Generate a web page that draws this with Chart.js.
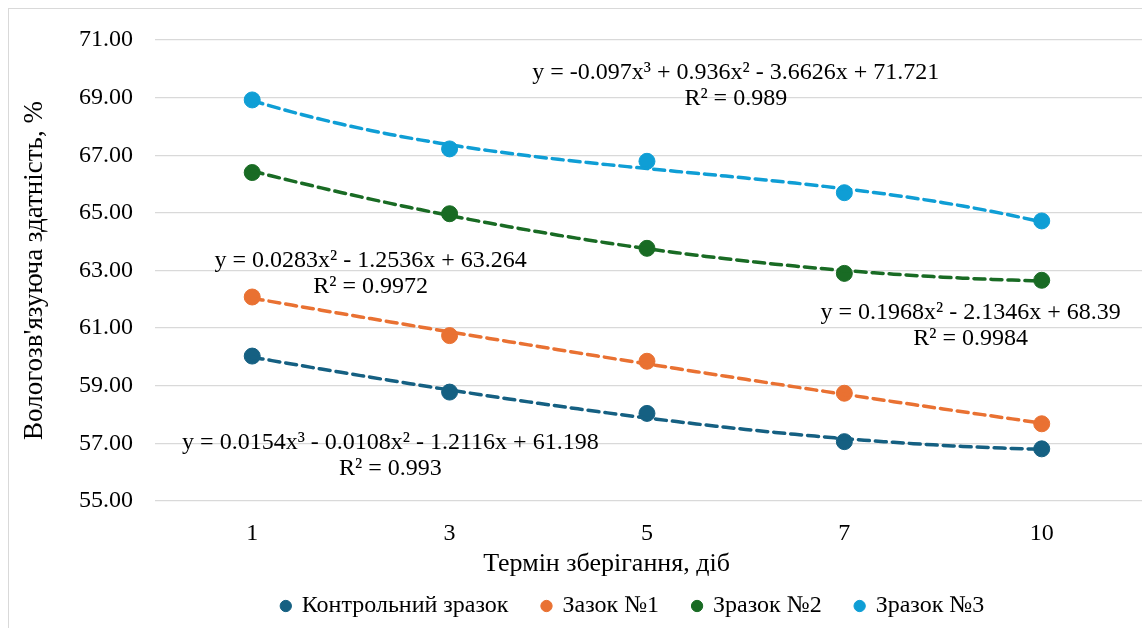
<!DOCTYPE html>
<html>
<head>
<meta charset="utf-8">
<script src="https://cdn.jsdelivr.net/npm/chart.js@4.4.1/dist/chart.umd.min.js"></script>
<style>
  html, body { margin: 0; padding: 0; background: #fff; overflow: hidden; width: 1142px; height: 628px; }
  #frame { position: absolute; left: 8px; top: 8px; width: 1300px; height: 800px; border: 1px solid #d9d9d9; }
  #wrap { position: absolute; left: 0; top: 0; width: 1256px; height: 628px; }
</style>
</head>
<body>
<div id="frame"></div>
<div id="wrap"><canvas id="grafik"></canvas></div>
<script>
// терміни зберігання, діб
var days = ['1', '3', '5', '7', '10'];
var yTicks = [55, 57, 59, 61, 63, 65, 67, 69, 71];

// виміряні значення
var kontrol = [60.03, 58.78, 58.04, 57.06, 56.81];
var zrazok1 = [62.08, 60.74, 59.85, 58.74, 57.68];
var zrazok2 = [66.40, 64.97, 63.77, 62.90, 62.66];
var zrazok3 = [68.92, 67.22, 66.79, 65.70, 64.72];

// коефіцієнти ліній тренду (c0 + c1*x + c2*x^2 + c3*x^3)
var trendK = [61.198, -1.2116, -0.0108, 0.0154];
var trend1 = [63.264, -1.2536, 0.0283];
var trend2 = [68.39, -2.1346, 0.1968];
var trend3 = [71.721, -3.6626, 0.936, -0.097];

var eqK = ['y = 0.0154x³ - 0.0108x² - 1.2116x + 61.198', 'R² = 0.993'];
var eq1 = ['y = 0.0283x² - 1.2536x + 63.264', 'R² = 0.9972'];
var eq2 = ['y = 0.1968x² - 2.1346x + 68.39', 'R² = 0.9984'];
var eq3 = ['y = -0.097x³ + 0.936x² - 3.6626x + 71.721', 'R² = 0.989'];

var xTitle = 'Термін зберігання, діб';
var yTitle = "Вологозв'язуюча здатність, %";

var colK = '#156082', col1 = '#E97132', col2 = '#196B24', col3 = '#0F9ED5';
var serif = '"Liberation Serif", "Times New Roman", serif';

function pts(vals) {
    return vals.map(function (v, i) { return { x: i + 1, y: v }; });
}
function curve(c) {
    var out = [];
    for (var i = 0; i <= 80; i++) {
        var x = 1 + i * 0.05;
        var y = 0;
        for (var k = 0; k < c.length; k++) y += c[k] * Math.pow(x, k);
        out.push({ x: x, y: y });
    }
    return out;
}
function series(label, vals, col) {
    return { label: label, data: pts(vals), backgroundColor: col, borderColor: col,
             pointRadius: 8, pointHoverRadius: 8, showLine: false, order: 2 };
}
function trend(c, col) {
    return { label: 'trend', trend: true, data: curve(c), borderColor: col, backgroundColor: col,
             borderWidth: 3.5, borderDash: [11, 6], borderCapStyle: 'round', pointRadius: 0,
             showLine: true, fill: false, order: 1 };
}

// підписи рівнянь (в одиницях осей)
var eqLabels = [
    { lines: eq3, x: 3.45, y: 69.85 },
    { lines: eq2, x: 4.64, y: 61.52 },
    { lines: eq1, x: 1.6, y: 63.33 },
    { lines: eqK, x: 1.70, y: 57.02 }
];

var eqPlugin = {
    id: 'eqPlugin',
    afterDatasetsDraw: function (chart) {
        var c = chart.ctx, xs = chart.scales.x, ys = chart.scales.y;
        c.save();
        c.fillStyle = '#000';
        c.textAlign = 'center';
        c.textBaseline = 'middle';
        c.font = '24px ' + serif;
        eqLabels.forEach(function (e) {
            var px = xs.getPixelForValue(e.x), py = ys.getPixelForValue(e.y);
            e.lines.forEach(function (t, i) { c.fillText(t, px, py + i * 26); });
        });
        // назва осі X
        c.font = '26px ' + serif;
        c.fillText(xTitle, xs.getPixelForValue(2.795), chart.chartArea.bottom + 63);
        c.restore();
    }
};

var ctx = document.getElementById('grafik').getContext('2d');
var myChart = new Chart(ctx, {
    type: 'scatter',
    data: {
        datasets: [
            series('Контрольний зразок', kontrol, colK),
            series('Зазок №1', zrazok1, col1),
            series('Зразок №2', zrazok2, col2),
            series('Зразок №3', zrazok3, col3),
            trend(trendK, colK),
            trend(trend1, col1),
            trend(trend2, col2),
            trend(trend3, col3)
        ]
    },
    options: {
        responsive: true,
        maintainAspectRatio: false,
        animation: false,
        layout: { padding: { left: 10, top: 40, right: 0, bottom: 0 } },
        plugins: {
            tooltip: { enabled: false },
            legend: {
                position: 'bottom',
                labels: {
                    filter: function (item, data) { return !data.datasets[item.datasetIndex].trend; },
                    usePointStyle: true,
                    pointStyle: 'circle',
                    boxWidth: 8,
                    boxHeight: 8,
                    padding: 34,
                    color: '#000',
                    font: { family: serif, size: 24 }
                }
            }
        },
        scales: {
            x: {
                type: 'linear',
                min: 0.5075,
                max: 6.04,
                grid: { display: false, drawTicks: false },
                border: { display: false },
                afterBuildTicks: function (s) { s.ticks = days.map(function (d, i) { return { value: i + 1 }; }); },
                afterFit: function (s) { s.height = 59; },
                ticks: {
                    padding: 18,
                    color: '#000',
                    font: { family: serif, size: 24 },
                    callback: function (v) { return days[v - 1]; }
                }
            },
            y: {
                min: yTicks[0],
                max: yTicks[yTicks.length - 1],
                grid: { color: '#d9d9d9', lineWidth: 1.3, drawTicks: false },
                border: { display: false },
                afterBuildTicks: function (s) { s.ticks = yTicks.map(function (v) { return { value: v }; }); },
                afterFit: function (s) { s.width = 145; },
                ticks: {
                    padding: 22,
                    color: '#000',
                    font: { family: serif, size: 24 },
                    callback: function (v) { return v.toFixed(2); }
                },
                title: {
                    display: true,
                    text: yTitle,
                    color: '#000',
                    font: { family: serif, size: 27 },
                    padding: { top: 9, bottom: 0 }
                }
            }
        }
    },
    plugins: [eqPlugin]
});
</script>
</body>
</html>
